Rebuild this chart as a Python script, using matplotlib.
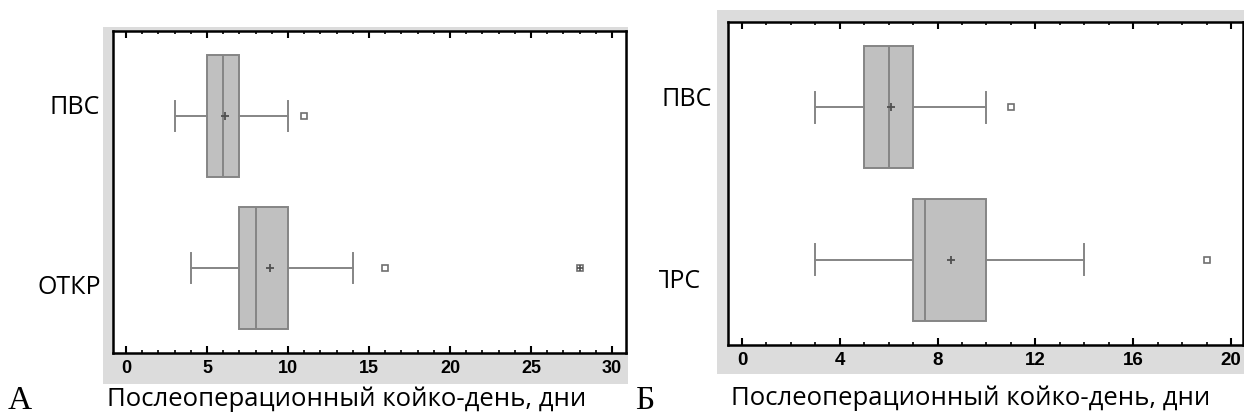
import matplotlib
matplotlib.use("Agg")
import matplotlib.pyplot as plt
from matplotlib.patches import Rectangle
from matplotlib.ticker import MultipleLocator
from matplotlib.transforms import Bbox, TransformedBbox

W, H = 1244, 416

# panel A data
groups_a = ["ПВС", "ОТКР"]
q1_a = [5, 7]
med_a = [6, 8]
q3_a = [7, 10]
whislo_a = [3, 4]
whishi_a = [10, 14]
mean_a = [6.1, 8.9]
fliers_a = [[11], [16]]
far_a = [None, 28]

# panel B data
groups_b = ["ПВС", "ПРС"]
q1_b = [5, 7]
med_b = [6, 7.5]
q3_b = [7, 10]
whislo_b = [3, 3]
whishi_b = [10, 14]
mean_b = [6.1, 8.55]
fliers_b = [[11], [19]]

xlabel = "Послеоперационный койко-день, дни"

fig = plt.figure(figsize=(W / 100, H / 100), dpi=100)


def fx(x):
    return x / W


def fy(y):
    return 1 - y / H


def gray_bg(x0, y0, x1, y1):
    fig.patches.append(Rectangle((fx(x0), fy(y1)), fx(x1 - x0), (y1 - y0) / H,
                                 transform=fig.transFigure, facecolor="#dcdcdc",
                                 edgecolor="none", zorder=-5))


def make_stats(q1, med, q3, lo, hi, mean, fl):
    out = []
    for i in range(len(q1)):
        out.append(dict(q1=q1[i], med=med[i], q3=q3[i], whislo=lo[i], whishi=hi[i],
                        mean=mean[i], fliers=fl[i]))
    return out


def draw_panel(ax, stats, xlim, major, tick_fs):
    ax.bxp(stats, positions=[1, 0], widths=0.8, capwidths=0.2, orientation="horizontal",
           patch_artist=True, showmeans=True, manage_ticks=False,
           boxprops=dict(facecolor="#c0c0c0", edgecolor="#858585", linewidth=1.4),
           medianprops=dict(color="#858585", linewidth=1.4),
           whiskerprops=dict(color="#858585", linewidth=1.4),
           capprops=dict(color="#858585", linewidth=1.4),
           meanprops=dict(marker="+", markeredgecolor="#505050", markersize=6, markeredgewidth=1.3),
           flierprops=dict(marker="s", markerfacecolor="white", markeredgecolor="#707070",
                           markersize=5, markeredgewidth=1.2))
    ax.set_xlim(*xlim)
    ax.set_ylim(-0.56, 1.56)
    ax.set_yticks([])
    ax.xaxis.set_major_locator(MultipleLocator(major))
    ax.xaxis.set_minor_locator(MultipleLocator(1))
    ax.tick_params(axis="x", which="both", direction="in", top=True, bottom=True,
                   color="black", pad=5)
    ax.tick_params(axis="x", which="major", length=5, width=1.5)
    ax.tick_params(axis="x", which="minor", length=2.5, width=1.2)
    for lab in ax.get_xticklabels():
        lab.set_fontfamily("Liberation Sans")
        lab.set_fontweight("bold")
        lab.set_fontsize(tick_fs)
    for s in ax.spines.values():
        s.set_linewidth(1.8)
        s.set_color("black")


# backgrounds
gray_bg(103, 27, 628, 384)
gray_bg(717, 10, 1244, 374)

# panel A
ax_a = fig.add_axes([fx(113), fy(353), fx(626 - 113), (353 - 31) / H])
stats_a = make_stats(q1_a, med_a, q3_a, whislo_a, whishi_a, mean_a, fliers_a)
draw_panel(ax_a, stats_a, (-0.8, 30.86), 5, 13)
for pos, v in zip([1, 0], far_a):
    if v is not None:
        ax_a.plot([v], [pos], marker="s", mfc="white", mec="#707070", ms=5, mew=1.2)
        ax_a.plot([v], [pos], marker="+", color="#505050", ms=5, mew=1.2)

# panel B
ax_b = fig.add_axes([fx(728), fy(345), fx(1243 - 728), (345 - 22) / H])
stats_b = make_stats(q1_b, med_b, q3_b, whislo_b, whishi_b, mean_b, fliers_b)
draw_panel(ax_b, stats_b, (-0.57, 20.49), 4, 13.5)

cat_font = ["Open Sans", "DejaVu Sans"]

# category labels
fig.text(fx(100), fy(107), groups_a[0], ha="right", va="center", fontsize=18, family=cat_font)
fig.text(fx(101), fy(287), groups_a[1], ha="right", va="center", fontsize=18, family=cat_font)
fig.text(fx(662), fy(100), groups_b[0], ha="left", va="center", fontsize=18, family=cat_font)
t = fig.text(fx(701), fy(282), groups_b[1], ha="right", va="center", fontsize=18, family=cat_font)
t.set_clip_box(TransformedBbox(Bbox.from_extents(fx(659), 0, 1, 1), fig.transFigure))
t.set_clip_on(True)

# axis titles
fig.text(fx(107), fy(406), xlabel, ha="left", va="baseline", fontsize=18.5, family=cat_font)
fig.text(fx(731), fy(405), xlabel, ha="left", va="baseline", fontsize=18.5, family=cat_font)

# panel letters
fig.text(fx(8), fy(409), "А", ha="left", va="baseline", fontsize=24, family="Liberation Serif")
fig.text(fx(635), fy(409), "Б", ha="left", va="baseline", fontsize=24, family="Liberation Serif")

fig.savefig("out.png", dpi=100, facecolor="white")
